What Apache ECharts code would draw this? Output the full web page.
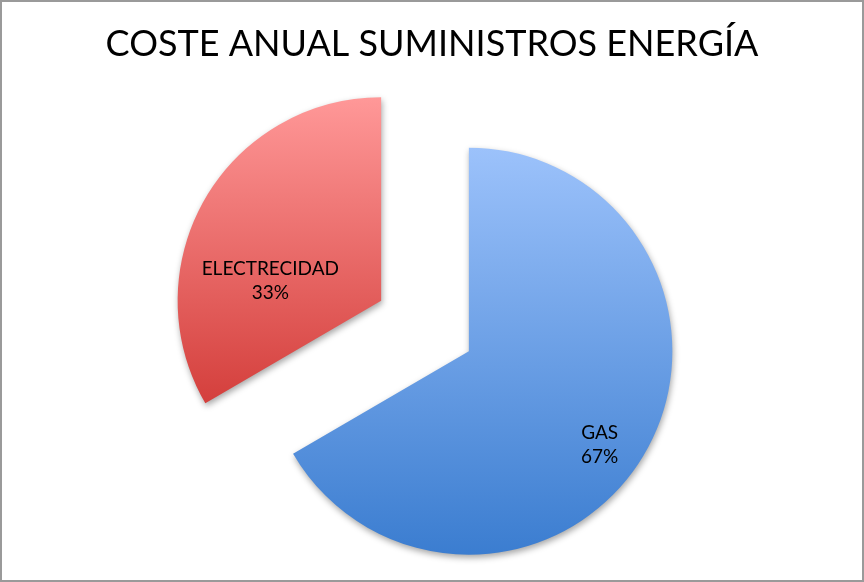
<!DOCTYPE html>
<html>
<head>
<meta charset="utf-8">
<script src="https://cdn.jsdelivr.net/npm/echarts@6/dist/echarts.min.js"></script>
<style>
html,body{margin:0;padding:0;background:#fff;}
#wrap{position:relative;width:864px;height:582px;}
#chart{position:absolute;left:0;top:0;width:864px;height:582px;}
#frame{position:absolute;left:0;top:0;width:860px;height:578px;border:2px solid #9a9a9a;box-shadow:1px 1px 0 #b5b5b5;pointer-events:none;}
</style>
</head>
<body>
<div id="wrap"><div id="chart"></div><div id="frame"></div></div>
<script>
const titleText = 'COSTE ANUAL SUMINISTROS ENERGÍA';
const categories = ['GAS', 'ELECTRECIDAD'];
const values = [66.6, 33.4];
const gradients = [
  ['#9cc2fb', '#3b7dd0'],
  ['#ff9898', '#d43f3c']
];
const labelShifts = [[40, 41], [-20, 32]];

function grad(c) {
  return new echarts.graphic.LinearGradient(0, 0, 0, 1, [
    {offset: 0, color: c[0]}, {offset: 1, color: c[1]}
  ]);
}

const data = categories.map((name, i) => {
  const style = {
    color: grad(gradients[i]),
    shadowColor: 'rgba(0,0,0,0.35)',
    shadowBlur: 6,
    shadowOffsetX: 1,
    shadowOffsetY: 3
  };
  return {
    name: name,
    value: values[i],
    selected: true,
    itemStyle: style,
    select: {itemStyle: style}
  };
});

const chart = echarts.init(document.getElementById('chart'), null, {renderer: 'canvas'});
chart.setOption({
  animation: false,
  title: {
    text: titleText,
    left: 'center',
    top: 21,
    textStyle: {fontFamily: 'Lato', fontSize: 36, fontWeight: 'normal', color: '#000'}
  },
  series: [{
    type: 'pie',
    center: [425, 326],
    radius: [0, 203.5],
    startAngle: 90,
    clockwise: true,
    selectedMode: 'multiple',
    selectedOffset: 50.6,
    percentPrecision: 0,
    avoidLabelOverlap: false,
    emphasis: {disabled: true},
    label: {
      show: true,
      position: 'inside',
      rotate: 0,
      formatter: '{b}\n{d}%',
      fontFamily: 'Lato',
      fontSize: 19,
      lineHeight: 24,
      color: '#000',
      align: 'center'
    },
    labelLayout: function (params) {
      const s = labelShifts[params.dataIndex];
      return {dx: s[0], dy: s[1]};
    },
    labelLine: {show: false},
    data: data
  }]
});
</script>
</body>
</html>
